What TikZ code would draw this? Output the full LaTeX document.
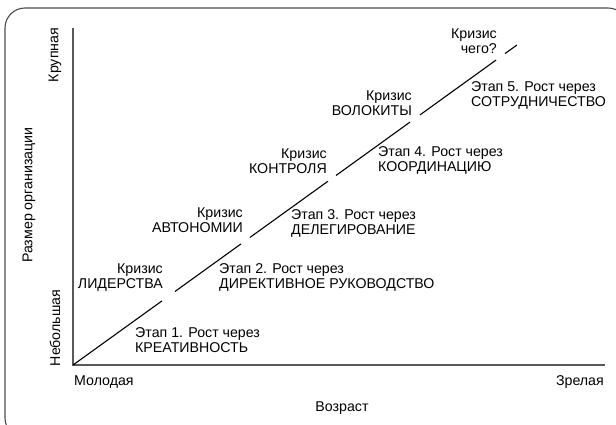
\documentclass[tikz,border=0pt]{standalone}
\usepackage{fontspec}
\setmainfont{Liberation Sans}
\begin{document}
\begin{tikzpicture}[x=1pt,y=-1pt,
  lbl/.style={inner sep=0pt, font=\fontsize{14.2}{15}\selectfont},
  crisis/.style={lbl, align=right, anchor=east},
  stage/.style={lbl, align=left, anchor=west},
  axis/.style={draw=black!65, line width=1.4pt},
  growth/.style={draw=black, line width=1.1pt},
  frame/.style={draw=black!70, line width=1.1pt, rounded corners=20pt}]
\useasboundingbox (0,0) rectangle (616,425);
\begin{scope}
\clip (0,0) rectangle (616,425);
\draw[frame] (5,8) rectangle (628,438);
\end{scope}
% axes
\coordinate (O) at (73,365);
\coordinate (ytop) at (73,28);
\coordinate (xend) at (605,365);
\draw[axis] (ytop) -- (O) -- (xend);
% growth line segments
\coordinate (s1a) at (73,365);   \coordinate (s1b) at (162,300.9);
\coordinate (s2a) at (175,291.5); \coordinate (s2b) at (241,243.9);
\coordinate (s3a) at (250,237.4); \coordinate (s3b) at (328,181.2);
\coordinate (s4a) at (336,175.5); \coordinate (s4b) at (410,122.1);
\coordinate (s5a) at (420,114.9); \coordinate (s5b) at (496,60.1);
\coordinate (s6a) at (505,53.6);  \coordinate (s6b) at (517,45);
\draw[growth] (s1a) -- (s1b);
\draw[growth] (s2a) -- (s2b);
\draw[growth] (s3a) -- (s3b);
\draw[growth] (s4a) -- (s4b);
\draw[growth] (s5a) -- (s5b);
\draw[growth] (s6a) -- (s6b);
% axis labels
\node[lbl, rotate=90] (big) at (55,55) {Крупная};
\node[lbl, rotate=90] (ylab) at (29,195) {Размер организации};
\node[lbl, rotate=90] (small) at (55,328) {Небольшая};
\node[lbl, anchor=west] (young) at (74,382) {Молодая};
\node[lbl, anchor=east] (mature) at (604,382) {Зрелая};
\node[lbl] (xlab) at (342,408) {Возраст};
% crises
\node[crisis] (c1) at (163,278) {Кризис\\ЛИДЕРСТВА};
\node[crisis] (c2) at (243,220.5) {Кризис\\АВТОНОМИИ};
\node[crisis] (c3) at (327,161.5) {Кризис\\КОНТРОЛЯ};
\node[crisis] (c4) at (412,103) {Кризис\\ВОЛОКИТЫ};
\node[crisis] (c5) at (497,41) {Кризис\\чего?};
% stages
\node[stage] (e1) at (135,340) {Этап 1. Рост через\\КРЕАТИВНОСТЬ};
\node[stage] (e2) at (219,277) {Этап 2. Рост через\\ДИРЕКТИВНОЕ РУКОВОДСТВО};
\node[stage] (e3) at (291,223) {Этап 3. Рост через\\ДЕЛЕГИРОВАНИЕ};
\node[stage] (e4) at (378,160) {Этап 4. Рост через\\КООРДИНАЦИЮ};
\node[stage] (e5) at (471,95) {Этап 5. Рост через\\СОТРУДНИЧЕСТВО};
\end{tikzpicture}
\end{document}
